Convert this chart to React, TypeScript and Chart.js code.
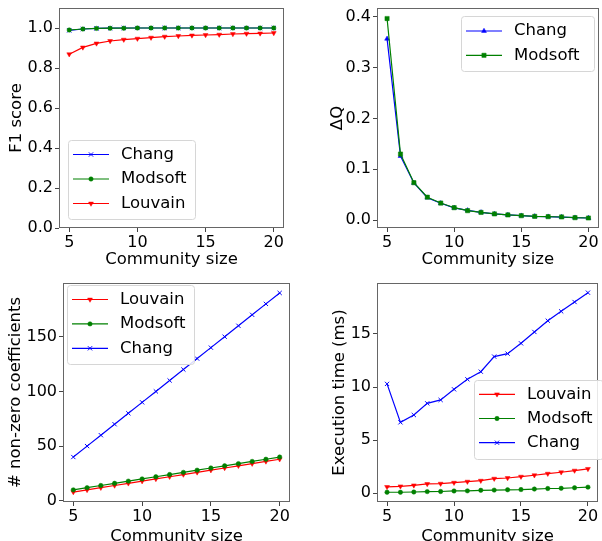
import React, { useEffect, useRef } from 'react';
import { Chart, registerables } from 'chart.js';
import { drawPoint } from 'chart.js/helpers';

Chart.register(...registerables);

// ---------- data ----------
const communitySizes = [5, 6, 7, 8, 9, 10, 11, 12, 13, 14, 15, 16, 17, 18, 19, 20];
const xTicks = [5, 10, 15, 20];

const f1Chang = [0.988, 0.995, 0.998, 0.999, 1.0, 1.0, 1.0, 1.0, 1.0, 1.0, 1.0, 1.0, 1.0, 1.0, 1.0, 1.0];
const f1Modsoft = [0.99, 0.995, 0.998, 0.999, 0.999, 1.0, 1.0, 1.0, 1.0, 1.0, 1.0, 1.0, 1.0, 1.0, 1.0, 1.0];
const f1Louvain = [0.869, 0.903, 0.923, 0.935, 0.942, 0.947, 0.952, 0.957, 0.96, 0.963, 0.965, 0.967, 0.97, 0.972, 0.973, 0.975];
const f1Ticks = [0, 0.2, 0.4, 0.6, 0.8, 1.0];

const dqChang = [0.357, 0.126, 0.073, 0.044, 0.033, 0.024, 0.019, 0.015, 0.012, 0.01, 0.0085, 0.0072, 0.0066, 0.0058, 0.0046, 0.004];
const dqModsoft = [0.397, 0.13, 0.0735, 0.045, 0.0335, 0.0243, 0.0184, 0.015, 0.012, 0.01, 0.0085, 0.0072, 0.0066, 0.006, 0.0046, 0.004];
const dqTicks = [0, 0.1, 0.2, 0.3, 0.4];

const nnzLouvain = [8, 10, 12, 14, 16, 18, 20, 22, 24, 26, 28, 30, 32, 34, 36, 38];
const nnzModsoft = [10, 12, 14, 16, 18, 20, 22, 24, 26, 28, 30, 32, 34, 36, 38, 40];
const nnzChang = [40, 50, 60, 70, 80, 90, 100, 110, 120, 130, 140, 150, 160, 170, 180, 190];
const nnzTicks = [0, 50, 100, 150];

const timeLouvain = [0.6, 0.66, 0.75, 0.88, 0.91, 1.0, 1.1, 1.19, 1.38, 1.44, 1.57, 1.7, 1.85, 1.98, 2.14, 2.3];
const timeModsoft = [0.1, 0.1, 0.12, 0.16, 0.17, 0.22, 0.23, 0.28, 0.3, 0.33, 0.35, 0.4, 0.45, 0.47, 0.52, 0.58];
const timeChang = [10.3, 6.68, 7.37, 8.47, 8.79, 9.79, 10.73, 11.45, 12.87, 13.15, 14.12, 15.19, 16.25, 17.13, 18.01, 18.89];
const timeTicks = [0, 5, 10, 15];

// ---------- styles ----------
const FONT = 'DejaVu Sans';
const BLUE = '#0000ff';
const GREEN = '#008000';
const RED = '#ff0000';

type Series = { label: string; values: number[]; color: string; style: string; rotation: number; radius: number };

const chang = (values: number[], style = 'crossRot', rotation = 0, radius = 3): Series => ({ label: 'Chang', values, color: BLUE, style, rotation, radius });
const modsoft = (values: number[], style = 'circle', radius = 2.2): Series => ({ label: 'Modsoft', values, color: GREEN, style, rotation: 0, radius });
const louvain = (values: number[]): Series => ({ label: 'Louvain', values, color: RED, style: 'triangle', rotation: 180, radius: 2.8 });

type Panel = {
  left: number; top: number; width: number; height: number;
  yWidth: number; xHeight: number; padTop: number; padRight: number;
  yMin: number; yMax: number; yTicks: number[]; yDecimals: number;
  yTitle: string; yTitlePad: number; xTitlePad: number;
  series: Series[];
  legend: { x: number; y: number; w: number; h: number; first: number; step: number };
};

const panels: Panel[] = [
  {
    left: 0, top: 0, width: 301, height: 270, yWidth: 59, xHeight: 42, padTop: 8, padRight: 17,
    yMin: 0, yMax: 1.1, yTicks: f1Ticks, yDecimals: 1, yTitle: 'F1 score', yTitlePad: 8, xTitlePad: 2.5,
    series: [chang(f1Chang), modsoft(f1Modsoft), louvain(f1Louvain)],
    legend: { x: 68, y: 140, w: 127, h: 79, first: 14.5, step: 24.5 },
  },
  {
    left: 301, top: 0, width: 302, height: 270, yWidth: 76, xHeight: 42, padTop: 8, padRight: 0,
    yMin: -0.0157, yMax: 0.4177, yTicks: dqTicks, yDecimals: 1, yTitle: 'ΔQ', yTitlePad: 28.5, xTitlePad: 2.5,
    series: [chang(dqChang, 'triangle', 0, 2.8), modsoft(dqModsoft, 'rect', 3)],
    legend: { x: 160, y: 16, w: 133, h: 55, first: 15, step: 24.3 },
  },
  {
    left: 0, top: 270, width: 301, height: 271, yWidth: 63, xHeight: 39, padTop: 13, padRight: 11,
    yMin: -1.1, yMax: 199.1, yTicks: nnzTicks, yDecimals: 0, yTitle: '# non-zero coefficients', yTitlePad: 7.5, xTitlePad: -3.5,
    series: [louvain(nnzLouvain), modsoft(nnzModsoft), chang(nnzChang)],
    legend: { x: 67, y: 15, w: 127, h: 79, first: 14.5, step: 24.4 },
  },
  {
    left: 301, top: 270, width: 302, height: 271, yWidth: 76, xHeight: 39, padTop: 13, padRight: 0,
    yMin: -0.82, yMax: 19.8, yTicks: timeTicks, yDecimals: 0, yTitle: 'Execution time (ms)', yTitlePad: 30.5, xTitlePad: -3.5,
    series: [louvain(timeLouvain), modsoft(timeModsoft), chang(timeChang)],
    legend: { x: 173, y: 110, w: 129, h: 79, first: 14.3, step: 24.2 },
  },
];

const framePlugin = {
  id: 'mplFrame',
  afterDatasetsDraw(chart: any) {
    const { ctx, chartArea } = chart;
    const l = Math.round(chartArea.left) + 0.5;
    const t = Math.round(chartArea.top) + 0.5;
    const r = Math.round(chartArea.right) - 0.5;
    const b = Math.round(chartArea.bottom) - 0.5;
    ctx.save();
    ctx.strokeStyle = '#666666';
    ctx.lineWidth = 1;
    ctx.strokeRect(l, t, r - l, b - t);
    ctx.restore();
  },
};

const legendPlugin = {
  id: 'mplLegend',
  afterDraw(chart: any, _args: any, opts: any) {
    const box = opts.box;
    if (!box) return;
    const { ctx } = chart;
    ctx.save();
    ctx.beginPath();
    const rr = 3;
    const x = box.x + 0.5, y = box.y + 0.5, w = box.w, h = box.h;
    ctx.moveTo(x + rr, y);
    ctx.lineTo(x + w - rr, y);
    ctx.quadraticCurveTo(x + w, y, x + w, y + rr);
    ctx.lineTo(x + w, y + h - rr);
    ctx.quadraticCurveTo(x + w, y + h, x + w - rr, y + h);
    ctx.lineTo(x + rr, y + h);
    ctx.quadraticCurveTo(x, y + h, x, y + h - rr);
    ctx.lineTo(x, y + rr);
    ctx.quadraticCurveTo(x, y, x + rr, y);
    ctx.closePath();
    ctx.fillStyle = 'rgba(255,255,255,0.85)';
    ctx.fill();
    ctx.strokeStyle = '#d6d6d6';
    ctx.lineWidth = 1;
    ctx.stroke();

    chart.data.datasets.forEach((ds: any, i: number) => {
      const cy = box.y + box.first + i * box.step;
      ctx.strokeStyle = ds.borderColor;
      ctx.lineWidth = ds.borderWidth;
      ctx.beginPath();
      ctx.moveTo(box.x + 5, cy);
      ctx.lineTo(box.x + 41, cy);
      ctx.stroke();
      ctx.fillStyle = ds.pointBackgroundColor;
      ctx.strokeStyle = ds.pointBorderColor;
      ctx.lineWidth = ds.pointBorderWidth;
      drawPoint(ctx, { pointStyle: ds.pointStyle, rotation: ds.pointRotation, radius: ds.pointRadius, borderWidth: ds.pointBorderWidth }, box.x + 23, cy);
      ctx.fillStyle = '#000000';
      ctx.font = `16.5px "${FONT}"`;
      ctx.textBaseline = 'middle';
      ctx.textAlign = 'left';
      ctx.fillText(ds.label, box.x + 53, cy);
    });
    ctx.restore();
  },
};

function PanelChart({ p }: { p: Panel }) {
  const ref = useRef<HTMLCanvasElement | null>(null);
  useEffect(() => {
    if (!ref.current) return;
    const n = p.series.length;
    const chart = new Chart(ref.current, {
      type: 'line',
      data: {
        datasets: p.series.map((s, i) => ({
          label: s.label,
          data: communitySizes.map((c, j) => ({ x: c, y: s.values[j] })),
          borderColor: s.color,
          backgroundColor: s.color,
          borderWidth: 1.2,
          pointStyle: s.style as any,
          pointRotation: s.rotation,
          pointRadius: s.radius,
          pointBackgroundColor: s.color,
          pointBorderColor: s.color,
          pointBorderWidth: s.style === 'crossRot' ? 1 : 0.5,
          tension: 0,
          fill: false,
          order: n - i,
        })),
      },
      options: {
        responsive: false,
        animation: false,
        events: [],
        layout: { padding: { left: 0, top: p.padTop, right: p.padRight, bottom: 0 } },
        plugins: {
          legend: { display: false },
          tooltip: { enabled: false },
          mplLegend: { box: p.legend },
        } as any,
        scales: {
          x: {
            type: 'linear',
            min: 4.25,
            max: 20.75,
            afterBuildTicks: (axis: any) => { axis.ticks = xTicks.map((v) => ({ value: v })); },
            afterFit: (axis: any) => { axis.height = p.xHeight; axis.paddingLeft = 0; axis.paddingRight = 0; },
            grid: { display: true, drawOnChartArea: false, drawTicks: true, tickLength: 4, tickWidth: 1, color: '#444444' },
            border: { display: false },
            ticks: { font: { family: FONT, size: 16 }, color: '#000000', padding: 1, maxRotation: 0, autoSkip: false, callback: (v: any) => String(v) },
            title: { display: true, text: 'Community size', font: { family: FONT, size: 16.5, lineHeight: 1 }, color: '#000000', padding: { top: 0, bottom: p.xTitlePad } },
          },
          y: {
            type: 'linear',
            min: p.yMin,
            max: p.yMax,
            afterBuildTicks: (axis: any) => { axis.ticks = p.yTicks.map((v) => ({ value: v })); },
            afterFit: (axis: any) => { axis.width = p.yWidth; axis.paddingTop = 0; axis.paddingBottom = 0; },
            grid: { display: true, drawOnChartArea: false, drawTicks: true, tickLength: 4, tickWidth: 1, color: '#444444' },
            border: { display: false },
            ticks: { font: { family: FONT, size: 16 }, color: '#000000', padding: 2, autoSkip: false, callback: (v: any) => Number(v).toFixed(p.yDecimals) },
            title: { display: true, text: p.yTitle, font: { family: FONT, size: 16.5, lineHeight: 1 }, color: '#000000', padding: { top: p.yTitlePad, bottom: 0 } },
          },
        },
      },
      plugins: [framePlugin, legendPlugin],
    });
    return () => chart.destroy();
  }, [p]);
  return (
    <canvas
      ref={ref}
      width={p.width}
      height={p.height}
      style={{ position: 'absolute', left: p.left, top: p.top, width: p.width, height: p.height }}
    />
  );
}

export default function App() {
  return (
    <div style={{ position: 'fixed', left: 0, top: 0, width: 602, height: 541, overflow: 'hidden', background: '#ffffff' }}>
      {panels.map((p, i) => (
        <PanelChart key={i} p={p} />
      ))}
    </div>
  );
}
